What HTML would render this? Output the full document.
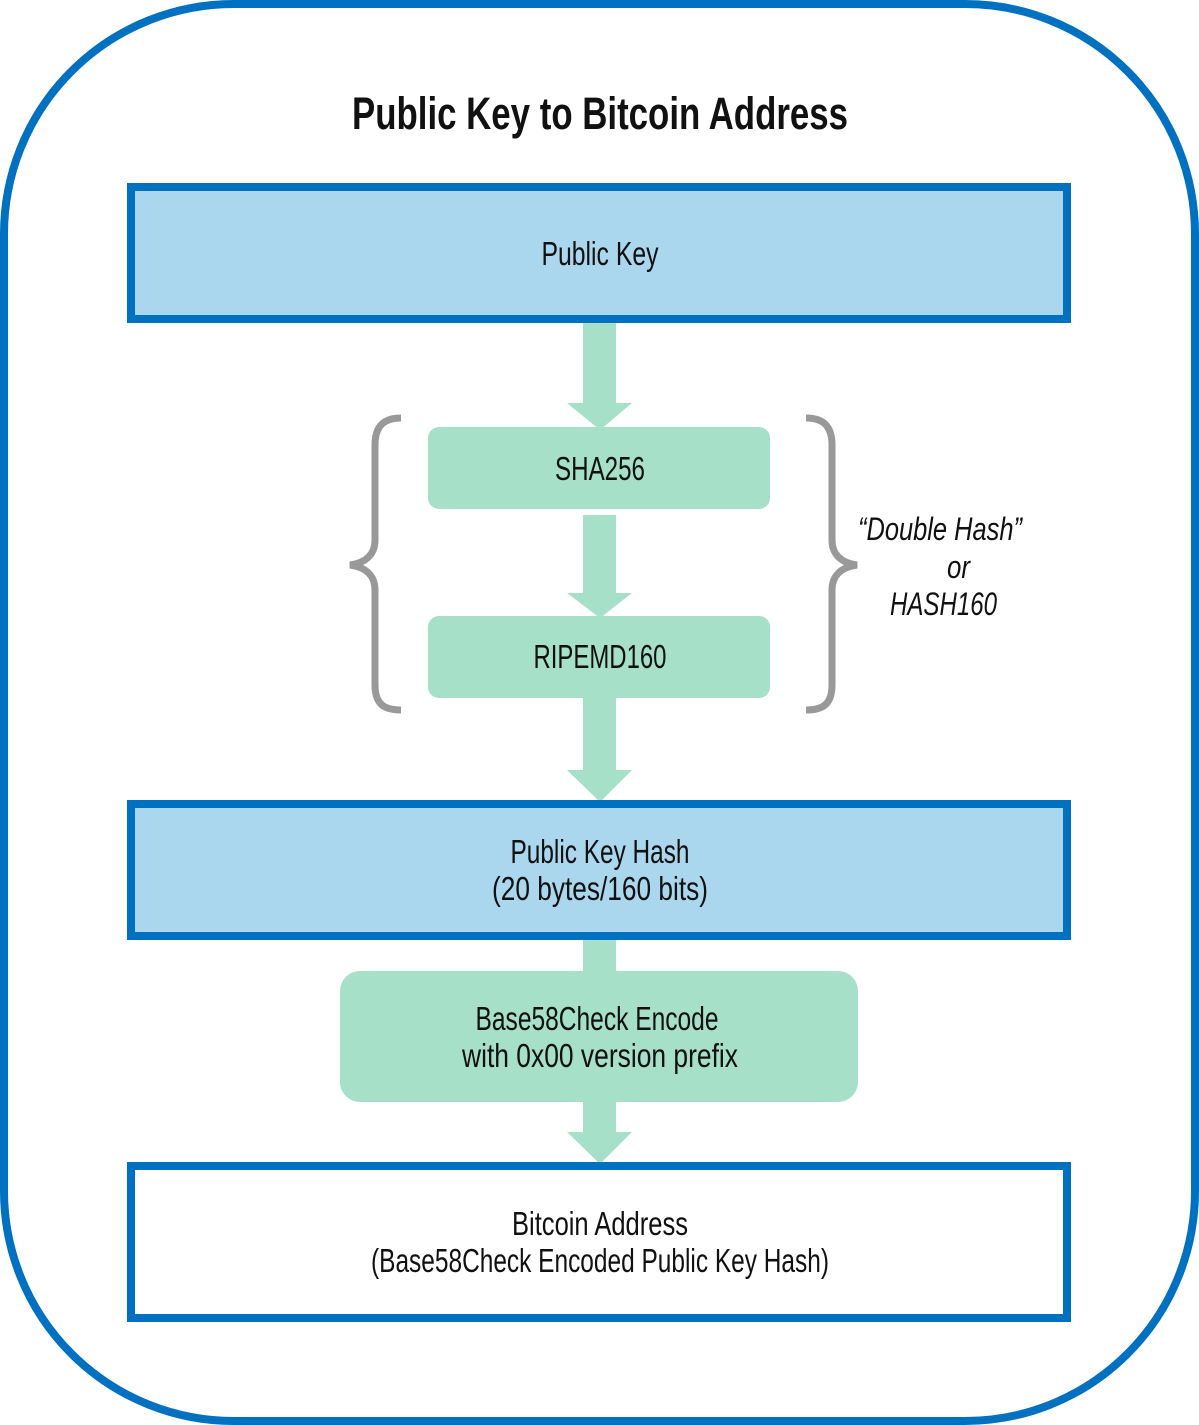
<!DOCTYPE html>
<html><head><meta charset="utf-8"><style>
html,body{margin:0;padding:0;background:#fff;}
svg{display:block;}
text{font-family:"Liberation Sans",sans-serif;fill:#111;}
</style></head><body>
<svg width="1199" height="1425" viewBox="0 0 1199 1425" xmlns="http://www.w3.org/2000/svg">
<rect x="4" y="4" width="1191" height="1417" rx="230" ry="230" fill="#fff" stroke="#0070c0" stroke-width="8"/>
<text x="600" y="129" font-size="45" font-weight="bold" text-anchor="middle" textLength="496" lengthAdjust="spacingAndGlyphs">Public Key to Bitcoin Address</text>

<g fill="#a6e0c8">
<rect x="583" y="323" width="33" height="82"/>
<polygon points="567,403 632,403 600,430"/>
<rect x="583" y="515" width="33" height="80"/>
<polygon points="567,593 632,593 600,618"/>
<rect x="583" y="696" width="33" height="76"/>
<polygon points="567,770 632,770 600,802"/>
<rect x="583" y="938" width="33" height="36"/>
<rect x="583" y="1100" width="33" height="34"/>
<polygon points="567,1132 632,1132 600,1164"/>
</g>

<rect x="131" y="187" width="936" height="132" fill="#aad6ee" stroke="#0070c0" stroke-width="8"/>
<text x="600" y="265" font-size="33" text-anchor="middle" textLength="117" lengthAdjust="spacingAndGlyphs">Public Key</text>

<rect x="428" y="427" width="342" height="82" rx="11" fill="#a6e0c8"/>
<text x="600" y="480" font-size="33" text-anchor="middle" textLength="90" lengthAdjust="spacingAndGlyphs">SHA256</text>
<rect x="428" y="616" width="342" height="82" rx="11" fill="#a6e0c8"/>
<text x="600" y="668" font-size="33" text-anchor="middle" textLength="133" lengthAdjust="spacingAndGlyphs">RIPEMD160</text>

<g fill="none" stroke="#999" stroke-width="7">
<path d="M401,418 C385,418 375,425 375,445 L375,540 C375,555 365,563 350,565 C365,567 375,575 375,590 L375,685 C375,705 385,710 401,710"/>
<path d="M806,418 C822,418 832,425 832,445 L832,540 C832,555 842,563 857,565 C842,567 832,575 832,590 L832,685 C832,705 822,710 806,710"/>
</g>
<text x="858" y="540" font-size="32" font-style="italic" textLength="164" lengthAdjust="spacingAndGlyphs">“Double Hash”</text>
<text x="947" y="578" font-size="32" font-style="italic" textLength="23" lengthAdjust="spacingAndGlyphs">or</text>
<text x="890" y="615" font-size="32" font-style="italic" textLength="107" lengthAdjust="spacingAndGlyphs">HASH160</text>

<rect x="131" y="804" width="936" height="132" fill="#aad6ee" stroke="#0070c0" stroke-width="8"/>
<text x="600" y="863" font-size="33" text-anchor="middle" textLength="179" lengthAdjust="spacingAndGlyphs">Public Key Hash</text>
<text x="600" y="900" font-size="33" text-anchor="middle" textLength="216" lengthAdjust="spacingAndGlyphs">(20 bytes/160 bits)</text>

<rect x="340" y="971" width="518" height="131" rx="20" fill="#a6e0c8"/>
<text x="597" y="1030" font-size="33" text-anchor="middle" textLength="243" lengthAdjust="spacingAndGlyphs">Base58Check  Encode</text>
<text x="600" y="1067" font-size="33" text-anchor="middle" textLength="276" lengthAdjust="spacingAndGlyphs">with 0x00 version prefix</text>

<rect x="131" y="1166" width="936" height="152" fill="#fff" stroke="#0070c0" stroke-width="8"/>
<text x="600" y="1235" font-size="33" text-anchor="middle" textLength="176" lengthAdjust="spacingAndGlyphs">Bitcoin Address</text>
<text x="600" y="1272" font-size="33" text-anchor="middle" textLength="458" lengthAdjust="spacingAndGlyphs">(Base58Check Encoded Public Key Hash)</text>
</svg>
</body></html>
